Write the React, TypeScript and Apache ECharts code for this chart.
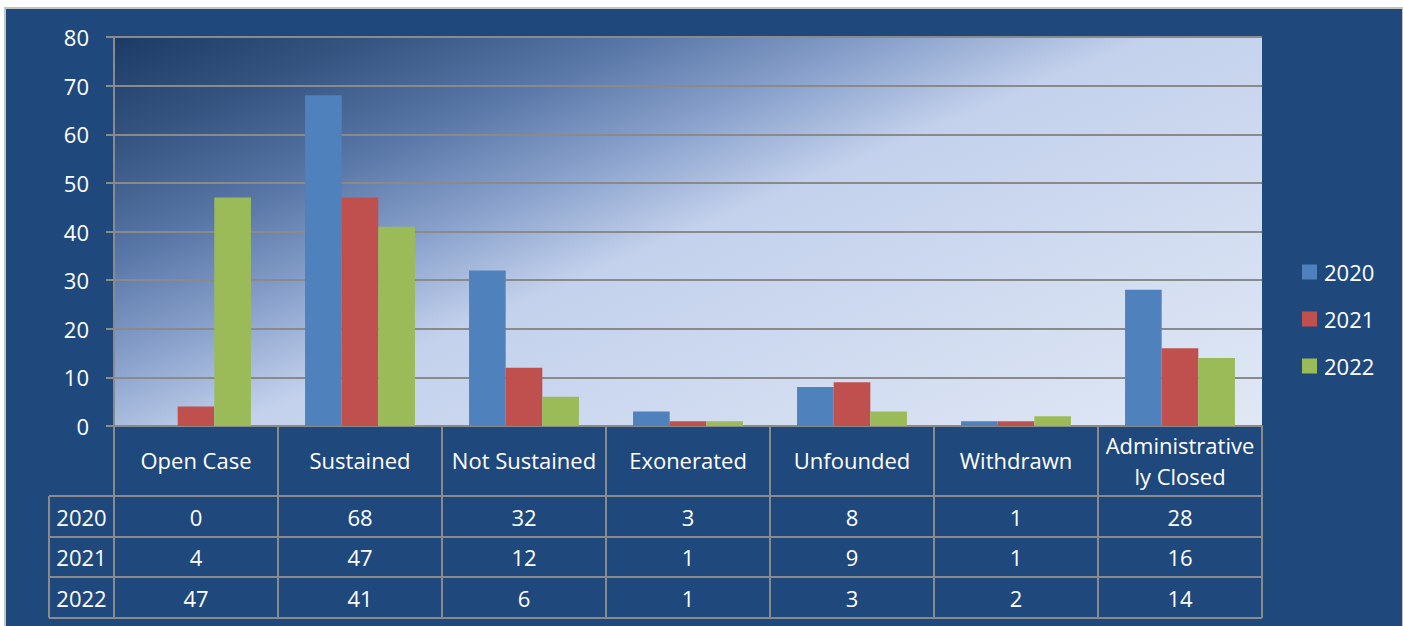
import React, { useEffect, useRef } from "react";
import * as echarts from "echarts";

const categories = [
  "Open Case",
  "Sustained",
  "Not Sustained",
  "Exonerated",
  "Unfounded",
  "Withdrawn",
  "Administratively Closed",
];
const headerLabels = [
  "Open Case",
  "Sustained",
  "Not Sustained",
  "Exonerated",
  "Unfounded",
  "Withdrawn",
  "Administrative\nly Closed",
];
const years = ["2020", "2021", "2022"];
const values2020 = [0, 68, 32, 3, 8, 1, 28];
const values2021 = [4, 47, 12, 1, 9, 1, 16];
const values2022 = [47, 41, 6, 1, 3, 2, 14];
const seriesValues = [values2020, values2021, values2022];
const seriesColors = ["#4F81BD", "#C0504D", "#9BBB59"];
const yTicks = { min: 0, max: 80, interval: 10 };

const FONT = "'Open Sans', 'Liberation Sans', sans-serif";
const GRID = { left: 114, top: 37, width: 1148, height: 389 };
const LINE = "#8a8a8a";
const HEADER_BOTTOM = 496;
const ROW_BOUNDS = [496, 537, 577, 618];
const YEAR_COL_LEFT = 49;

export default function App() {
  const ref = useRef<HTMLDivElement>(null);
  useEffect(() => {
    if (!ref.current) return;
    const chart = echarts.init(ref.current, null, { renderer: "svg" });
    const gridBottom = GRID.top + GRID.height;
    const gridRight = GRID.left + GRID.width;
    const colW = GRID.width / categories.length;
    const colEdges = categories.map((_, i) => GRID.left + i * colW).concat([gridRight]);

    const graphics: any[] = [];
    const stroke = { stroke: LINE, lineWidth: 2 };
    colEdges.forEach((x) => {
      graphics.push({ type: "line", shape: { x1: x, y1: gridBottom, x2: x, y2: ROW_BOUNDS[ROW_BOUNDS.length - 1] }, style: stroke });
    });
    graphics.push({ type: "line", shape: { x1: YEAR_COL_LEFT, y1: ROW_BOUNDS[0], x2: YEAR_COL_LEFT, y2: ROW_BOUNDS[ROW_BOUNDS.length - 1] }, style: stroke });
    ROW_BOUNDS.forEach((y) => {
      graphics.push({ type: "line", shape: { x1: YEAR_COL_LEFT, y1: y, x2: gridRight, y2: y }, style: stroke });
    });
    headerLabels.forEach((lab, i) => {
      graphics.push({
        type: "text",
        x: GRID.left + (i + 0.5) * colW,
        y: (gridBottom + HEADER_BOTTOM) / 2 - 1,
        style: { text: lab, fill: "#ffffff", font: `22px ${FONT}`, align: "center", verticalAlign: "middle", lineHeight: 31 },
      });
    });
    years.forEach((yr, r) => {
      const cy = (ROW_BOUNDS[r] + ROW_BOUNDS[r + 1]) / 2;
      graphics.push({
        type: "text",
        x: (YEAR_COL_LEFT + GRID.left) / 2,
        y: cy,
        style: { text: yr, fill: "#ffffff", font: `22px ${FONT}`, align: "center", verticalAlign: "middle" },
      });
      seriesValues[r].forEach((v, i) => {
        graphics.push({
          type: "text",
          x: GRID.left + (i + 0.5) * colW,
          y: cy,
          style: { text: String(v), fill: "#ffffff", font: `22px ${FONT}`, align: "center", verticalAlign: "middle" },
        });
      });
    });

    chart.setOption({
      animation: false,
      backgroundColor: "transparent",
      textStyle: { fontFamily: FONT },
      grid: {
        ...GRID,
        show: true,
        borderWidth: 0,
        backgroundColor: new echarts.graphic.LinearGradient(
          GRID.left,
          GRID.top,
          GRID.left + 312,
          GRID.top + 741,
          [
            { offset: 0, color: "#1c3a66" },
            { offset: 0.12, color: "#34537f" },
            { offset: 0.26, color: "#5a78a8" },
            { offset: 0.38, color: "#8aa2cc" },
            { offset: 0.5, color: "#c3d1ec" },
            { offset: 1, color: "#e0e8f5" },
          ],
          true
        ),
      },
      legend: {
        orient: "vertical",
        left: 1302,
        top: 261,
        padding: 0,
        itemWidth: 15,
        itemHeight: 15,
        itemGap: 25,
        icon: "rect",
        data: years,
        textStyle: { color: "#ffffff", fontSize: 22, fontFamily: FONT, padding: [0, 0, 0, 2] },
      },
      xAxis: {
        type: "category",
        data: categories,
        axisLine: { show: true, lineStyle: { color: LINE, width: 2 } },
        axisTick: { show: false },
        axisLabel: { show: false },
        splitLine: { show: false },
      },
      yAxis: {
        type: "value",
        min: yTicks.min,
        max: yTicks.max,
        interval: yTicks.interval,
        axisLine: { show: true, lineStyle: { color: LINE, width: 2 } },
        axisTick: { show: true, length: 8, lineStyle: { color: LINE, width: 2 } },
        axisLabel: { color: "#ffffff", fontSize: 22, fontFamily: FONT, margin: 25 },
        splitLine: { show: true, lineStyle: { color: LINE, width: 2 } },
      },
      series: years.map((yr, i) => ({
        name: yr,
        type: "bar",
        data: seriesValues[i],
        barGap: "0%",
        barCategoryGap: "33%",
        itemStyle: { color: seriesColors[i] },
      })),
      graphic: graphics,
    });
    return () => chart.dispose();
  }, []);

  return (
    <div style={{ position: "fixed", left: 0, top: 0, width: 1403, height: 626, background: "#ffffff", overflow: "hidden" }}>
      <div
        style={{
          position: "absolute",
          left: 4,
          top: 7,
          width: 1396,
          height: 640,
          background: "#1F497D",
          border: "2px solid #c4c4c4",
        }}
      />
      <div ref={ref} style={{ position: "absolute", left: 0, top: 0, width: 1403, height: 626 }} />
    </div>
  );
}
